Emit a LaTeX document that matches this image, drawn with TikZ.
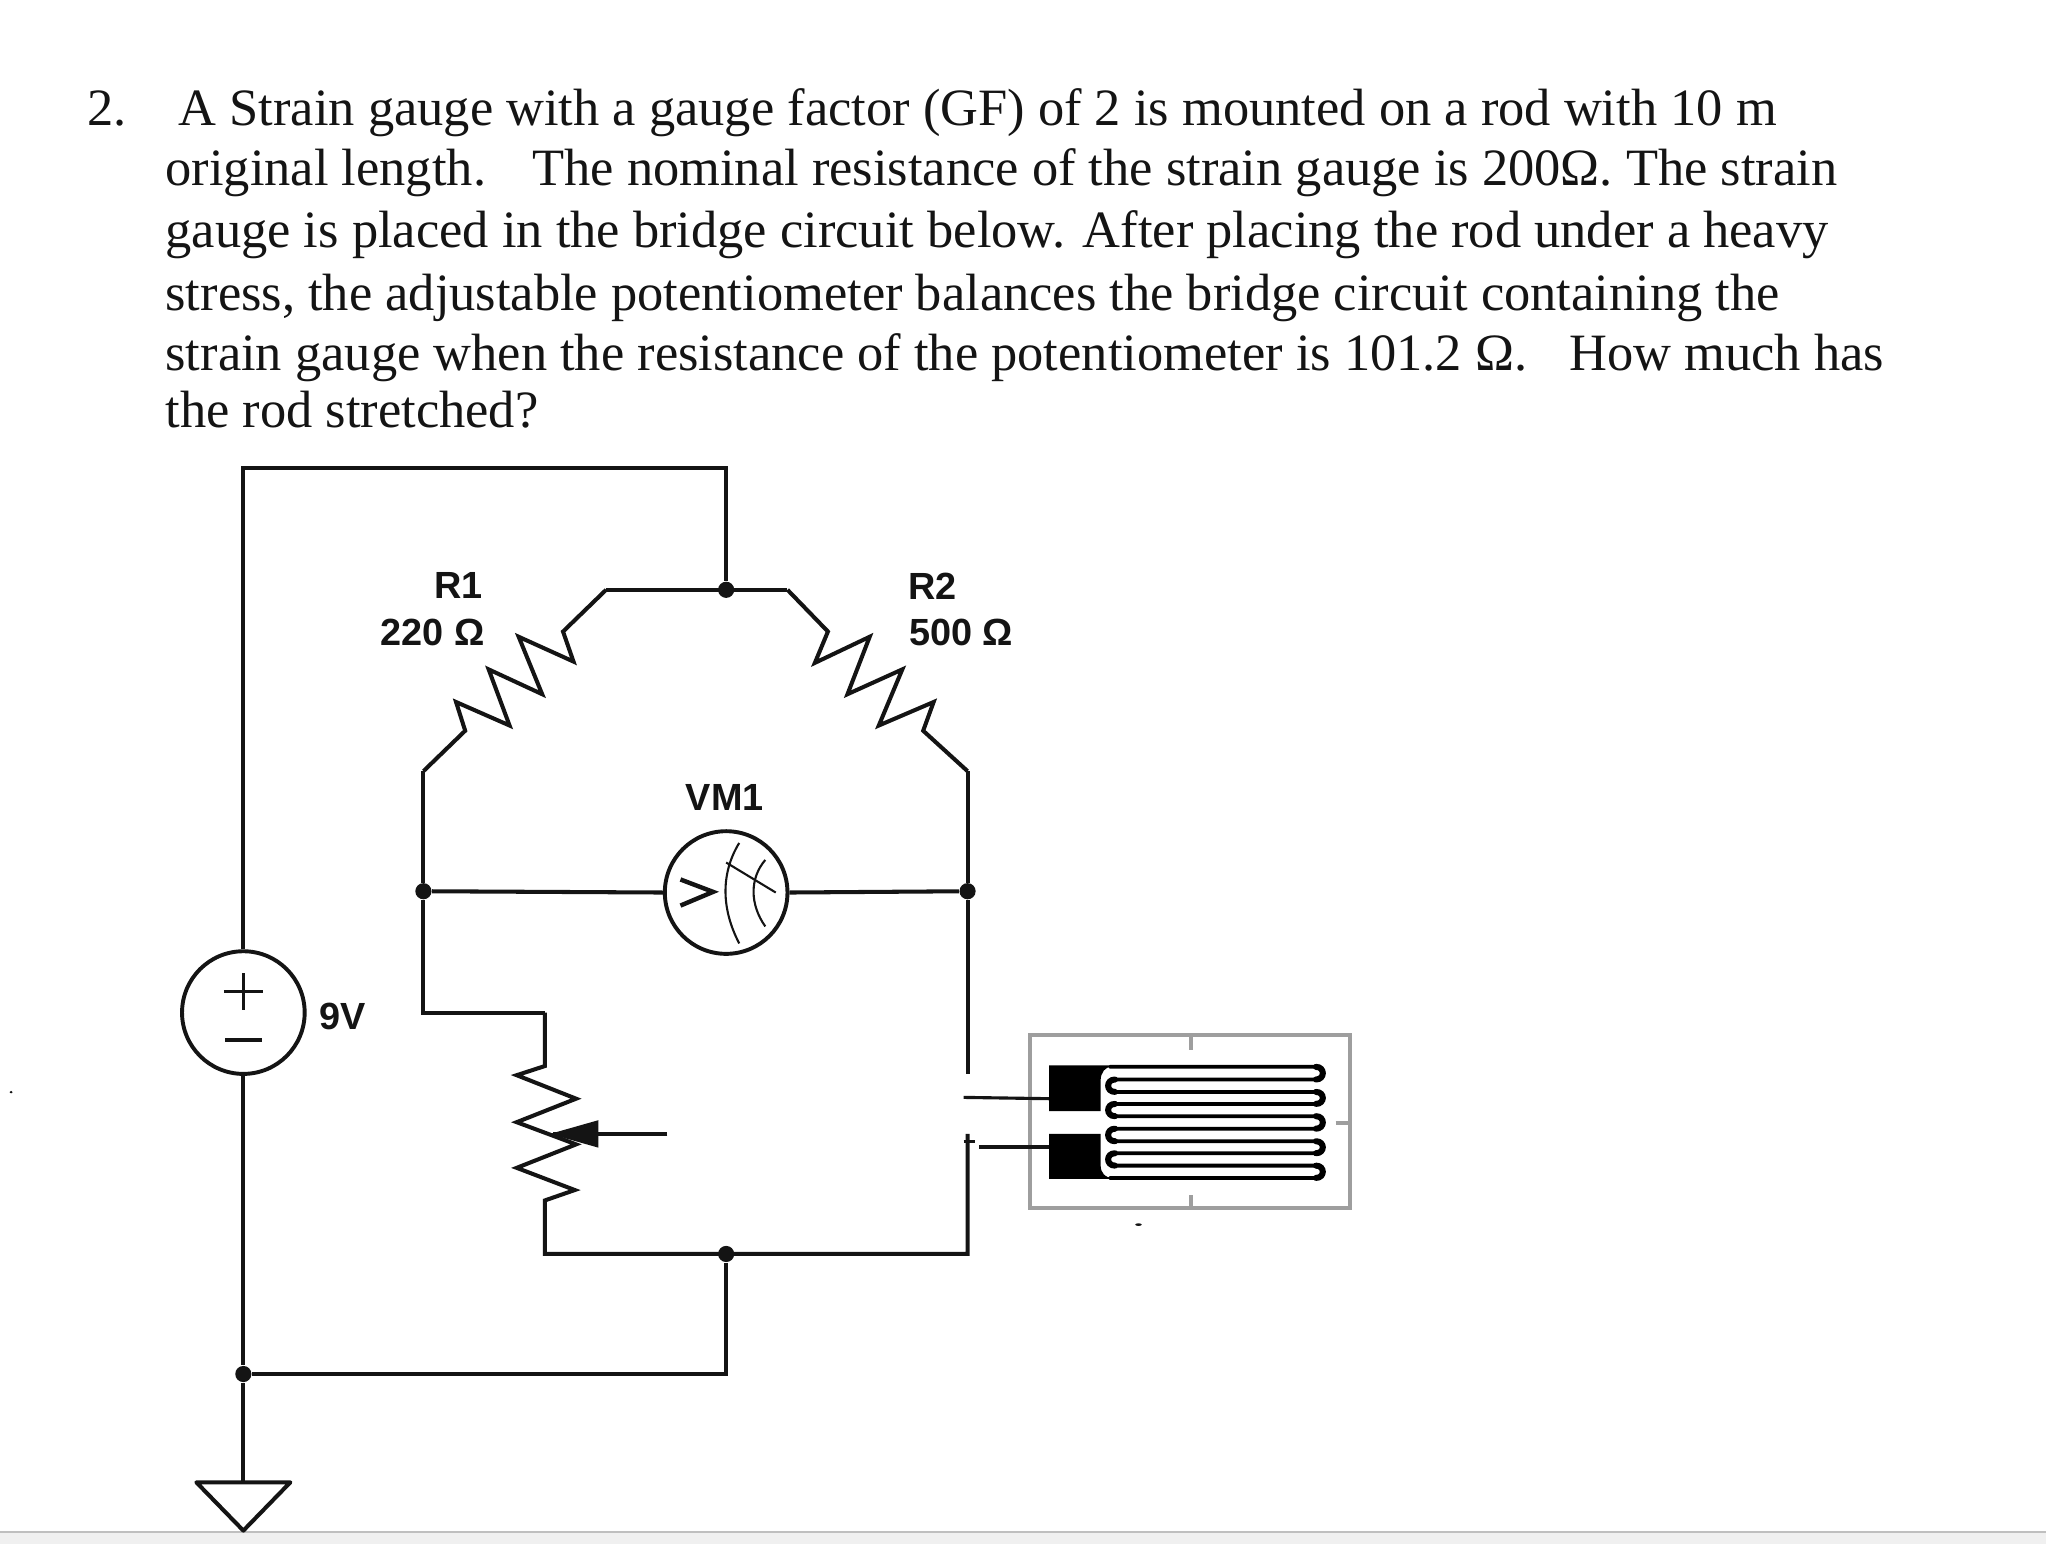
\documentclass[tikz,border=0pt]{standalone}
\usepackage{fontspec}
\setmainfont{Liberation Serif}
\newfontfamily\lblfont{Liberation Sans}
\usetikzlibrary{arrows.meta}
\definecolor{ink}{HTML}{141414}
\tikzset{
  wire/.style={draw=ink,line width=1.55pt,line join=miter},
  thin wire/.style={draw=ink,line width=0.9pt},
  dotnode/.style={circle,fill=ink,inner sep=0pt,minimum size=6.2pt},
  para/.style={anchor=base west,inner sep=0pt,text=ink,font=\fontsize{20.1pt}{22pt}\selectfont},
  lbl/.style={inner sep=0pt,text=ink,font=\lblfont\fontsize{14.5pt}{16pt}\selectfont\bfseries},
  meter/.style={circle,draw=ink,line width=1.5pt,minimum size=47pt,inner sep=0pt},
  gaugewire/.style={draw=black,line width=1.45pt,line cap=round},
  gaugeloop/.style={draw=black,line width=2.3pt,line cap=round},
  gaugeframe/.style={draw=black!38,line width=1.4pt},
}
\begin{document}
\begin{tikzpicture}[x=0.5pt,y=-0.5pt]
\useasboundingbox (-0.5,-1) rectangle (1567.5,1182);
\fill[white] (-0.5,-1) rectangle (1567.5,1182);
\fill[black!6] (-0.5,1173) rectangle (1567.5,1182);
\draw[black!25,line width=0.8pt] (-0.5,1173) -- (1567.5,1173);

% question text
\node[para] (n2) at (66,95) {2.};
\node[para] (l1) at (136,95) {A Strain gauge with a gauge factor (GF) of 2 is mounted on a rod with 10 m};
\node[para] (l2) at (126,141) {original length.\hspace{0.55em} The nominal resistance of the strain gauge is 200Ω. The strain};
\node[para] (l3) at (126,189) {gauge is placed in the bridge circuit below. After placing the rod under a heavy};
\node[para] (l4) at (126,237) {stress, the adjustable potentiometer balances the bridge circuit containing the};
\node[para] (l5) at (126,283) {strain gauge when the resistance of the potentiometer is 101.2 Ω.\hspace{0.55em} How much has};
\node[para] (l6) at (126,327) {the rod stretched?};

% named points
\coordinate (tl) at (186,358);
\coordinate (tr) at (556,358);
\coordinate (barL) at (464,451);
\coordinate (barR) at (603,451);
\coordinate (sideL) at (324,590);
\coordinate (sideR) at (741,590);
\coordinate (potTopL) at (324,775);
\coordinate (potTop) at (417,775);
\coordinate (potBot) at (417,960);
\coordinate (brR) at (741,960);
\coordinate (wireEndA) at (741,822);
\coordinate (wireEndB) at (741,868);
\coordinate (bl) at (556,1052);
\coordinate (gndTop) at (186,1135);
\coordinate (gndL) at (150,1135);
\coordinate (gndR) at (222,1135);
\coordinate (gndTip) at (186,1172);
\coordinate (wiperEnd) at (511,868);
\coordinate (wiperTip) at (423,868);

% components
\node[meter] (vm) at (556,683) {};
\node[meter] (src) at (186,775) {};
\node[dotnode] (jTop) at (556,451) {};
\node[dotnode] (jL) at (324,682) {};
\node[dotnode] (jR) at (741,682) {};
\node[dotnode] (jBot) at (556,960) {};
\node[dotnode] (jGnd) at (186,1052) {};

% wiring
\draw[wire] (src.north) -- (tl) -- (tr) -- (jTop);
\draw[wire] (barL) -- (barR);
\draw[wire] (barL) -- (431,483) -- (439,506) -- (397,487) -- (415,531) -- (374,512) -- (390,555) -- (349,537) -- (356,559) -- (sideL);
\draw[wire] (barR) -- (634,483) -- (624,507) -- (666,487) -- (649,531) -- (691,512) -- (673,555) -- (715,537) -- (707,559) -- (sideR);
\draw[wire] (sideL) -- (jL) -- (potTopL) -- (potTop);
\draw[wire] (sideR) -- (jR) -- (wireEndA);
\draw[wire] (jL) -- (vm.west);
\draw[wire] (vm.east) -- (jR);
\draw[wire] (potTop) -- (417,816) -- (395.5,823) -- (441,841) -- (395.5,859) -- (441,876) -- (395.5,894) -- (440,911) -- (417,919) -- (potBot) -- (brR) -- (wireEndB);
\draw[wire] (jBot) -- (bl) -- (jGnd);
\draw[wire] (src.south) -- (jGnd) -- (gndTop);
\draw[wire,line join=round] (gndL) -- (gndR) -- (gndTip) -- cycle;
\draw[wire] (wiperEnd) -- (wiperTip);
\fill[ink] (421,868) -- (458,857.5) -- (458,878.5) -- cycle;

% source signs
\draw[thin wire,line width=1.35pt] (171,759) -- (201,759) (186,745) -- (186,773);
\draw[thin wire,line width=1.35pt] (172,796) -- (200,796);

% meter face
\draw[draw=ink,line width=1.7pt] (521,673) -- (546,682.5) -- (521,693);
\draw[thin wire,line width=0.8pt] (566,645) .. controls (552,668) and (552,695) .. (566,722);
\draw[thin wire,line width=0.8pt] (586,658) .. controls (574,672) and (574,692) .. (586,709);
\draw[thin wire,line width=0.8pt] (556,660) -- (594,683);

% labels
\node[lbl] (r1a) at (351,448) {R1};
\node[lbl] (r1b) at (331,484) {220 Ω};
\node[lbl] (r2a) at (714,448) {R2};
\node[lbl] (r2b) at (736,484) {500 Ω};
\node[lbl] (vml) at (555,610) {VM1};
\node[lbl] (v9) at (262,778) {9V};

% strain gauge
\node[gaugeframe,draw,minimum width=122.5pt,minimum height=66.5pt,inner sep=0pt] (frame) at (911.5,858.5) {};
\draw[gaugeframe] (912,793) -- (912,804);
\draw[gaugeframe] (912,915) -- (912,925);
\draw[gaugeframe] (1023,859.5) -- (1034,859.5);
\fill[black] (803.5,815.5) -- (853,815.5) .. controls (846,817) and (843,821) .. (843,827) -- (843,850.5) -- (803.5,850.5) -- cycle;
\fill[black] (803.5,868) -- (843,868) -- (843,892) .. controls (843,898) and (846,901) .. (853,902.5) -- (803.5,902.5) -- cycle;
\draw[gaugewire] (850,816.6) -- (1009,816.6)
  .. controls +(6.3,0) and +(6.3,0) .. (1009,826.3) -- (853,826.3)
  .. controls +(-6.3,0) and +(-6.3,0) .. (853,835.8) -- (1009,835.8)
  .. controls +(6.3,0) and +(6.3,0) .. (1009,845) -- (853,845)
  .. controls +(-6.3,0) and +(-6.3,0) .. (853,854.4) -- (1009,854.4)
  .. controls +(6.3,0) and +(6.3,0) .. (1009,864) -- (853,864)
  .. controls +(-6.3,0) and +(-6.3,0) .. (853,873.6) -- (1009,873.6)
  .. controls +(6.3,0) and +(6.3,0) .. (1009,882.8) -- (853,882.8)
  .. controls +(-6.3,0) and +(-6.3,0) .. (853,892.3) -- (1009,892.3)
  .. controls +(6.3,0) and +(6.3,0) .. (1009,901.7) -- (850,901.7);
% heavier bends
\draw[gaugeloop] (1008,816.6) .. controls +(7,0) and +(7,0) .. (1008,826.3);
\draw[gaugeloop] (1008,835.8) .. controls +(7,0) and +(7,0) .. (1008,845);
\draw[gaugeloop] (1008,854.4) .. controls +(7,0) and +(7,0) .. (1008,864);
\draw[gaugeloop] (1008,873.6) .. controls +(7,0) and +(7,0) .. (1008,882.8);
\draw[gaugeloop] (1008,892.3) .. controls +(7,0) and +(7,0) .. (1008,901.7);
\draw[gaugeloop] (854,826.3) .. controls +(-7,0) and +(-7,0) .. (854,835.8);
\draw[gaugeloop] (854,845) .. controls +(-7,0) and +(-7,0) .. (854,854.4);
\draw[gaugeloop] (854,864) .. controls +(-7,0) and +(-7,0) .. (854,873.6);
\draw[gaugeloop] (854,882.8) .. controls +(-7,0) and +(-7,0) .. (854,892.3);
\coordinate (stubA) at (738,840);
\coordinate (stubB) at (750,878);
\coordinate (stubC) at (738,873.5);
\coordinate (stubC2) at (747,873.5);
\draw[draw=ink,line width=1.2pt] (stubA) -- (803.5,841);
\draw[draw=ink,line width=1.2pt] (stubB) -- (803.5,878);
\draw[draw=ink,line width=1.2pt] (stubC) -- (stubC2);
\fill[ink] (872,937.5) ellipse (2.5 and 1);
\fill[ink] (8,836) ellipse (1.2 and 1);
\end{tikzpicture}
\end{document}
